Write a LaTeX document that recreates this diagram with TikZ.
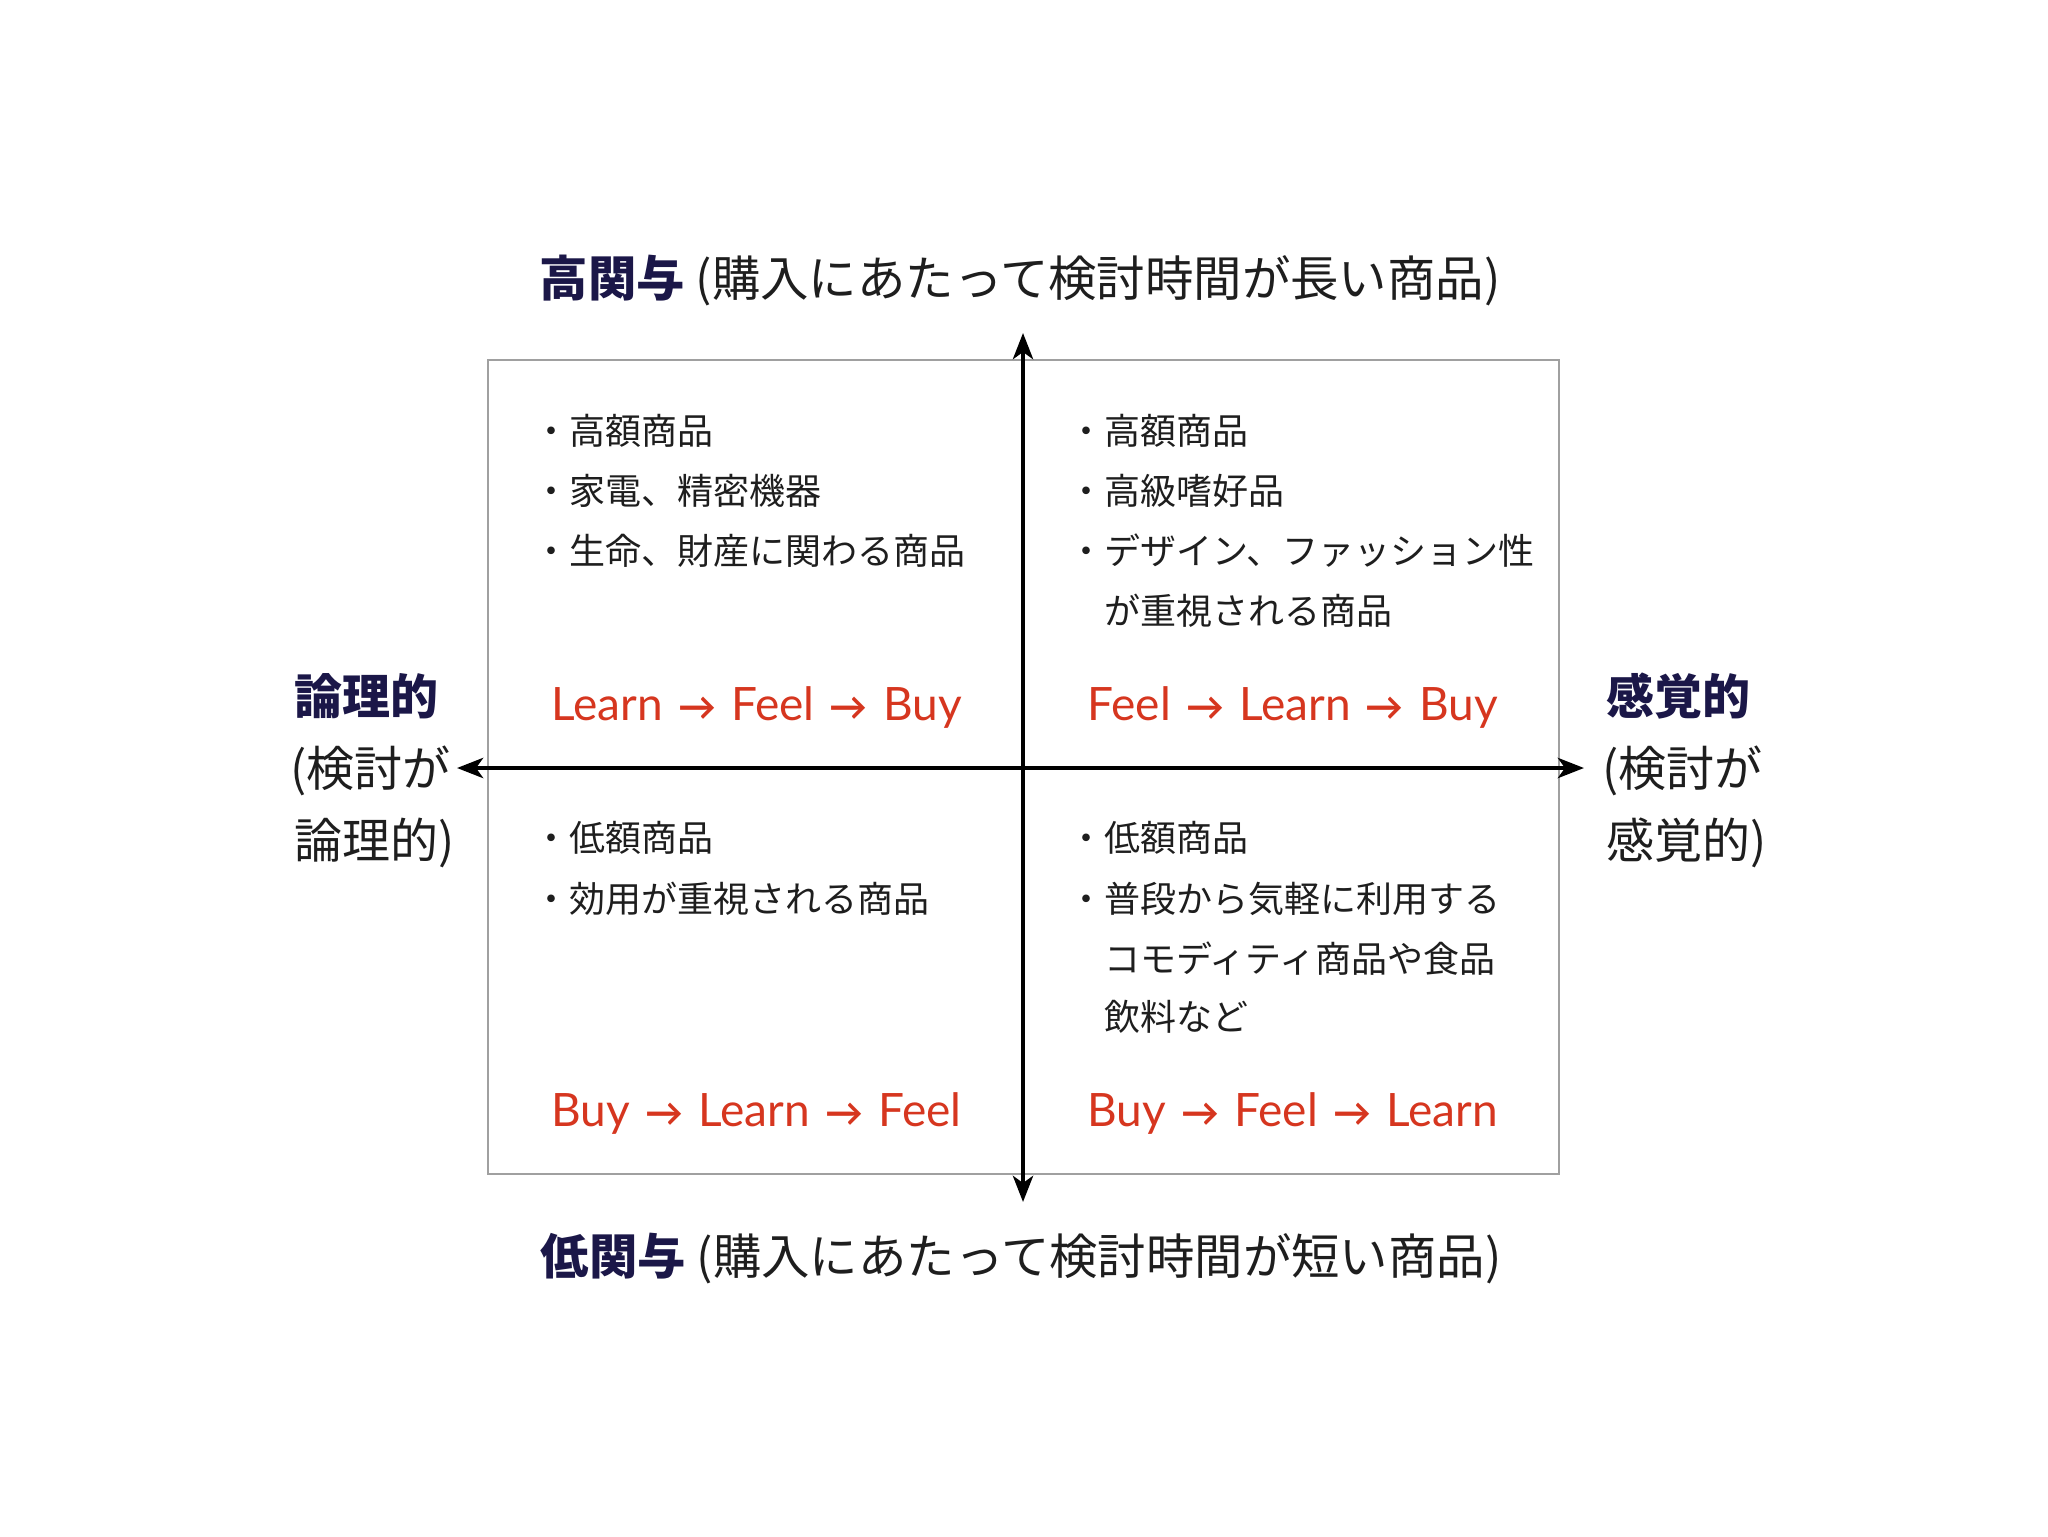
\documentclass[tikz,border=0pt]{standalone}
\usepackage{fontspec}
\setmainfont{Noto Sans CJK JP}
\newfontfamily\lat{Lato}
\usetikzlibrary{arrows.meta}
\definecolor{navy}{HTML}{1B1748}
\definecolor{redt}{HTML}{D6361F}
\definecolor{txt}{HTML}{1E1E1E}
\definecolor{boxc}{HTML}{A0A0A0}
\begin{document}
\begin{tikzpicture}[x=0.5pt,y=-0.5pt,
  head/.style={font=\fontsize{24.2}{29}\selectfont, text=txt, inner sep=0, text height=21.3pt, text depth=2.9pt},
  side/.style={font=\fontsize{24}{28}\selectfont, text=txt, anchor=west, inner sep=0, text height=21pt, text depth=3pt},
  item/.style={font=\fontsize{18}{22}\selectfont, text=txt, anchor=west, inner sep=0, text height=15.8pt, text depth=2.2pt},
  flow/.style={font=\lat\fontsize{23}{28}\selectfont, text=redt, anchor=west, inner sep=0, text height=16.6pt, text depth=0pt},
  axis/.style={line width=2.4pt, black, {Stealth[length=13pt,width=10pt,inset=3.5pt]}-{Stealth[length=13pt,width=10pt,inset=3.5pt]}},
  quad/.style={draw=boxc, line width=1pt}
]
\useasboundingbox (0,0) rectangle (2048,1536);
\fill[white] (0,0) rectangle (2048,1536);
\newcommand{\ar}{\hspace{0.33em}{\bfseries\fontsize{19}{24}\selectfont →}\hspace{0.33em}}
% box
\node[quad, minimum width=1071*0.5pt, minimum height=814*0.5pt, inner sep=0, anchor=north west] (box) at (487,359) {};
% axes
\coordinate (vtop) at (1023,333);
\coordinate (vbot) at (1023,1202);
\coordinate (hleft) at (457,768);
\coordinate (hright) at (1584,768);
\draw[axis] (vbot) -- (vtop);
\draw[axis] (hleft) -- (hright);
% headings
\node[head] (top) at (1020,278) {{\bfseries\color{navy}高関与} (購入にあたって検討時間が長い商品)};
\node[head] (bottom) at (1021,1256) {{\bfseries\color{navy}低関与} (購入にあたって検討時間が短い商品)};
% side labels
\node[side] (l1) at (294,696) {\bfseries\color{navy}論理的};
\node[side] (l2) at (290,768) {(検討が};
\node[side] (l3) at (294,840) {論理的)};
\node[side] (r1) at (1606,696) {\bfseries\color{navy}感覚的};
\node[side] (r2) at (1602,768) {(検討が};
\node[side] (r3) at (1606,840) {感覚的)};
% top-left
\node[item] (tl1) at (533,431) {・高額商品};
\node[item] (tl2) at (533,491) {・家電、精密機器};
\node[item] (tl3) at (533,551) {・生命、財産に関わる商品};
\node[flow] (tlf) at (551,704) {Learn\ar Feel\ar Buy};
% top-right
\node[item] (tr1) at (1068,431) {・高額商品};
\node[item] (tr2) at (1068,491) {・高級嗜好品};
\node[item] (tr3) at (1068,551) {・デザイン、ファッション性};
\node[item] (tr4) at (1104,611) {が重視される商品};
\node[flow] (trf) at (1087,704) {Feel\ar Learn\ar Buy};
% bottom-left
\node[item] (bl1) at (533,838) {・低額商品};
\node[item] (bl2) at (533,899) {・効用が重視される商品};
\node[flow] (blf) at (551,1110) {Buy\ar Learn\ar Feel};
% bottom-right
\node[item] (br1) at (1068,838) {・低額商品};
\node[item] (br2) at (1068,899) {・普段から気軽に利用する};
\node[item] (br3) at (1104,959) {コモディティ商品や食品};
\node[item] (br4) at (1104,1017) {飲料など};
\node[flow] (brf) at (1087,1110) {Buy\ar Feel\ar Learn};
\end{tikzpicture}
\end{document}
